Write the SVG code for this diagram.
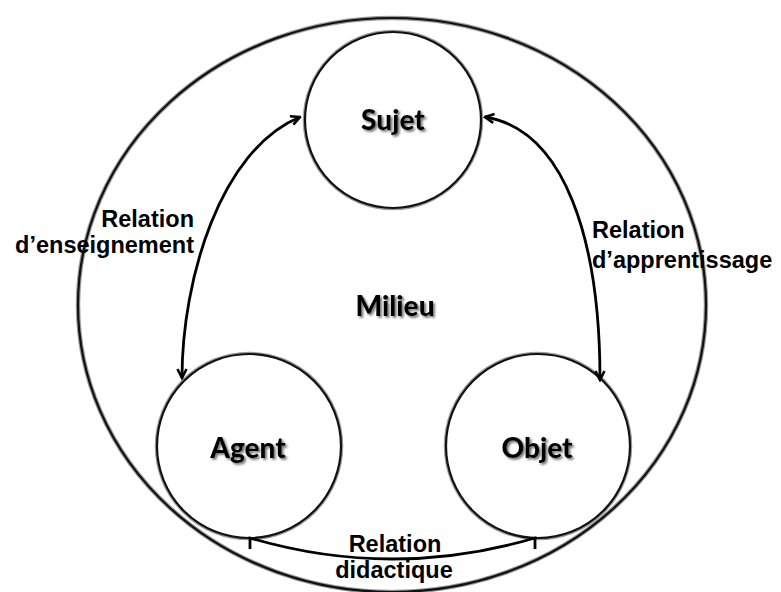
<svg xmlns="http://www.w3.org/2000/svg" width="781" height="592" viewBox="0 0 781 592">
<style>
.ring{fill:none;stroke:#111;stroke-width:2.2}
.halo{fill:none;stroke:#9a9a9a;stroke-width:4.5}
.node{fill:#fff;stroke:#111;stroke-width:2.2}
.lab{font-family:"Liberation Sans",Arial,sans-serif;font-weight:bold;font-size:23.5px;fill:#000}
.nl{font-family:"Lato","Liberation Sans",sans-serif;font-weight:900;font-size:28px;text-anchor:middle;fill:#000;filter:url(#shadow)}
.conn{fill:none;stroke:#000;stroke-width:2.8}
</style>
<defs>
<filter id="shadow" x="-20%" y="-30%" width="140%" height="160%">
<feDropShadow dx="1.8" dy="1.8" stdDeviation="0.9" flood-color="#6f6f6f" flood-opacity="1"/>
</filter>
<marker id="ah" viewBox="0 0 12 12" refX="10.5" refY="6" markerWidth="12" markerHeight="12" markerUnits="userSpaceOnUse" orient="auto-start-reverse">
<path d="M1.5,1.5 L10.5,6 L1.5,10.5" fill="none" stroke="#000" stroke-width="2.6"/>
</marker>
</defs>
<rect width="781" height="592" fill="#fff"/>
<g id="milieu">
<ellipse cx="392" cy="305" rx="314" ry="287" class="halo"/>
<ellipse cx="392" cy="305" rx="314" ry="287" class="ring"/>
<text x="395" y="316" class="nl">Milieu</text>
</g>
<g id="sujet">
<circle cx="393" cy="120" r="88" class="halo"/>
<circle cx="393" cy="120" r="88" class="node"/>
<text x="393" y="130" class="nl">Sujet</text>
</g>
<g id="agent">
<circle cx="249" cy="446" r="92" class="halo"/>
<circle cx="249" cy="446" r="92" class="node"/>
<text x="248" y="458" class="nl">Agent</text>
</g>
<g id="objet">
<circle cx="538" cy="446" r="92" class="halo"/>
<circle cx="538" cy="446" r="92" class="node"/>
<text x="537" y="458" class="nl">Objet</text>
</g>
<g id="connectors">
<path d="M182 378 C182 280 220 150 300 117" class="conn" marker-start="url(#ah)" marker-end="url(#ah)"/>
<path d="M485 117 C565 130 600 240 600 380" class="conn" marker-start="url(#ah)" marker-end="url(#ah)"/>
<path d="M250 549 L250 538 Q392 580 535 538 L535 549" class="conn"/>
</g>
<g id="labels">
<text class="lab" text-anchor="end" x="194" y="227">Relation</text>
<text class="lab" text-anchor="end" x="194" y="253">d’enseignement</text>
<text class="lab" x="592" y="238">Relation</text>
<text class="lab" x="592" y="268">d’apprentissage</text>
<text class="lab" text-anchor="middle" x="395" y="552">Relation</text>
<text class="lab" text-anchor="middle" x="394" y="578">didactique</text>
</g>
</svg>
